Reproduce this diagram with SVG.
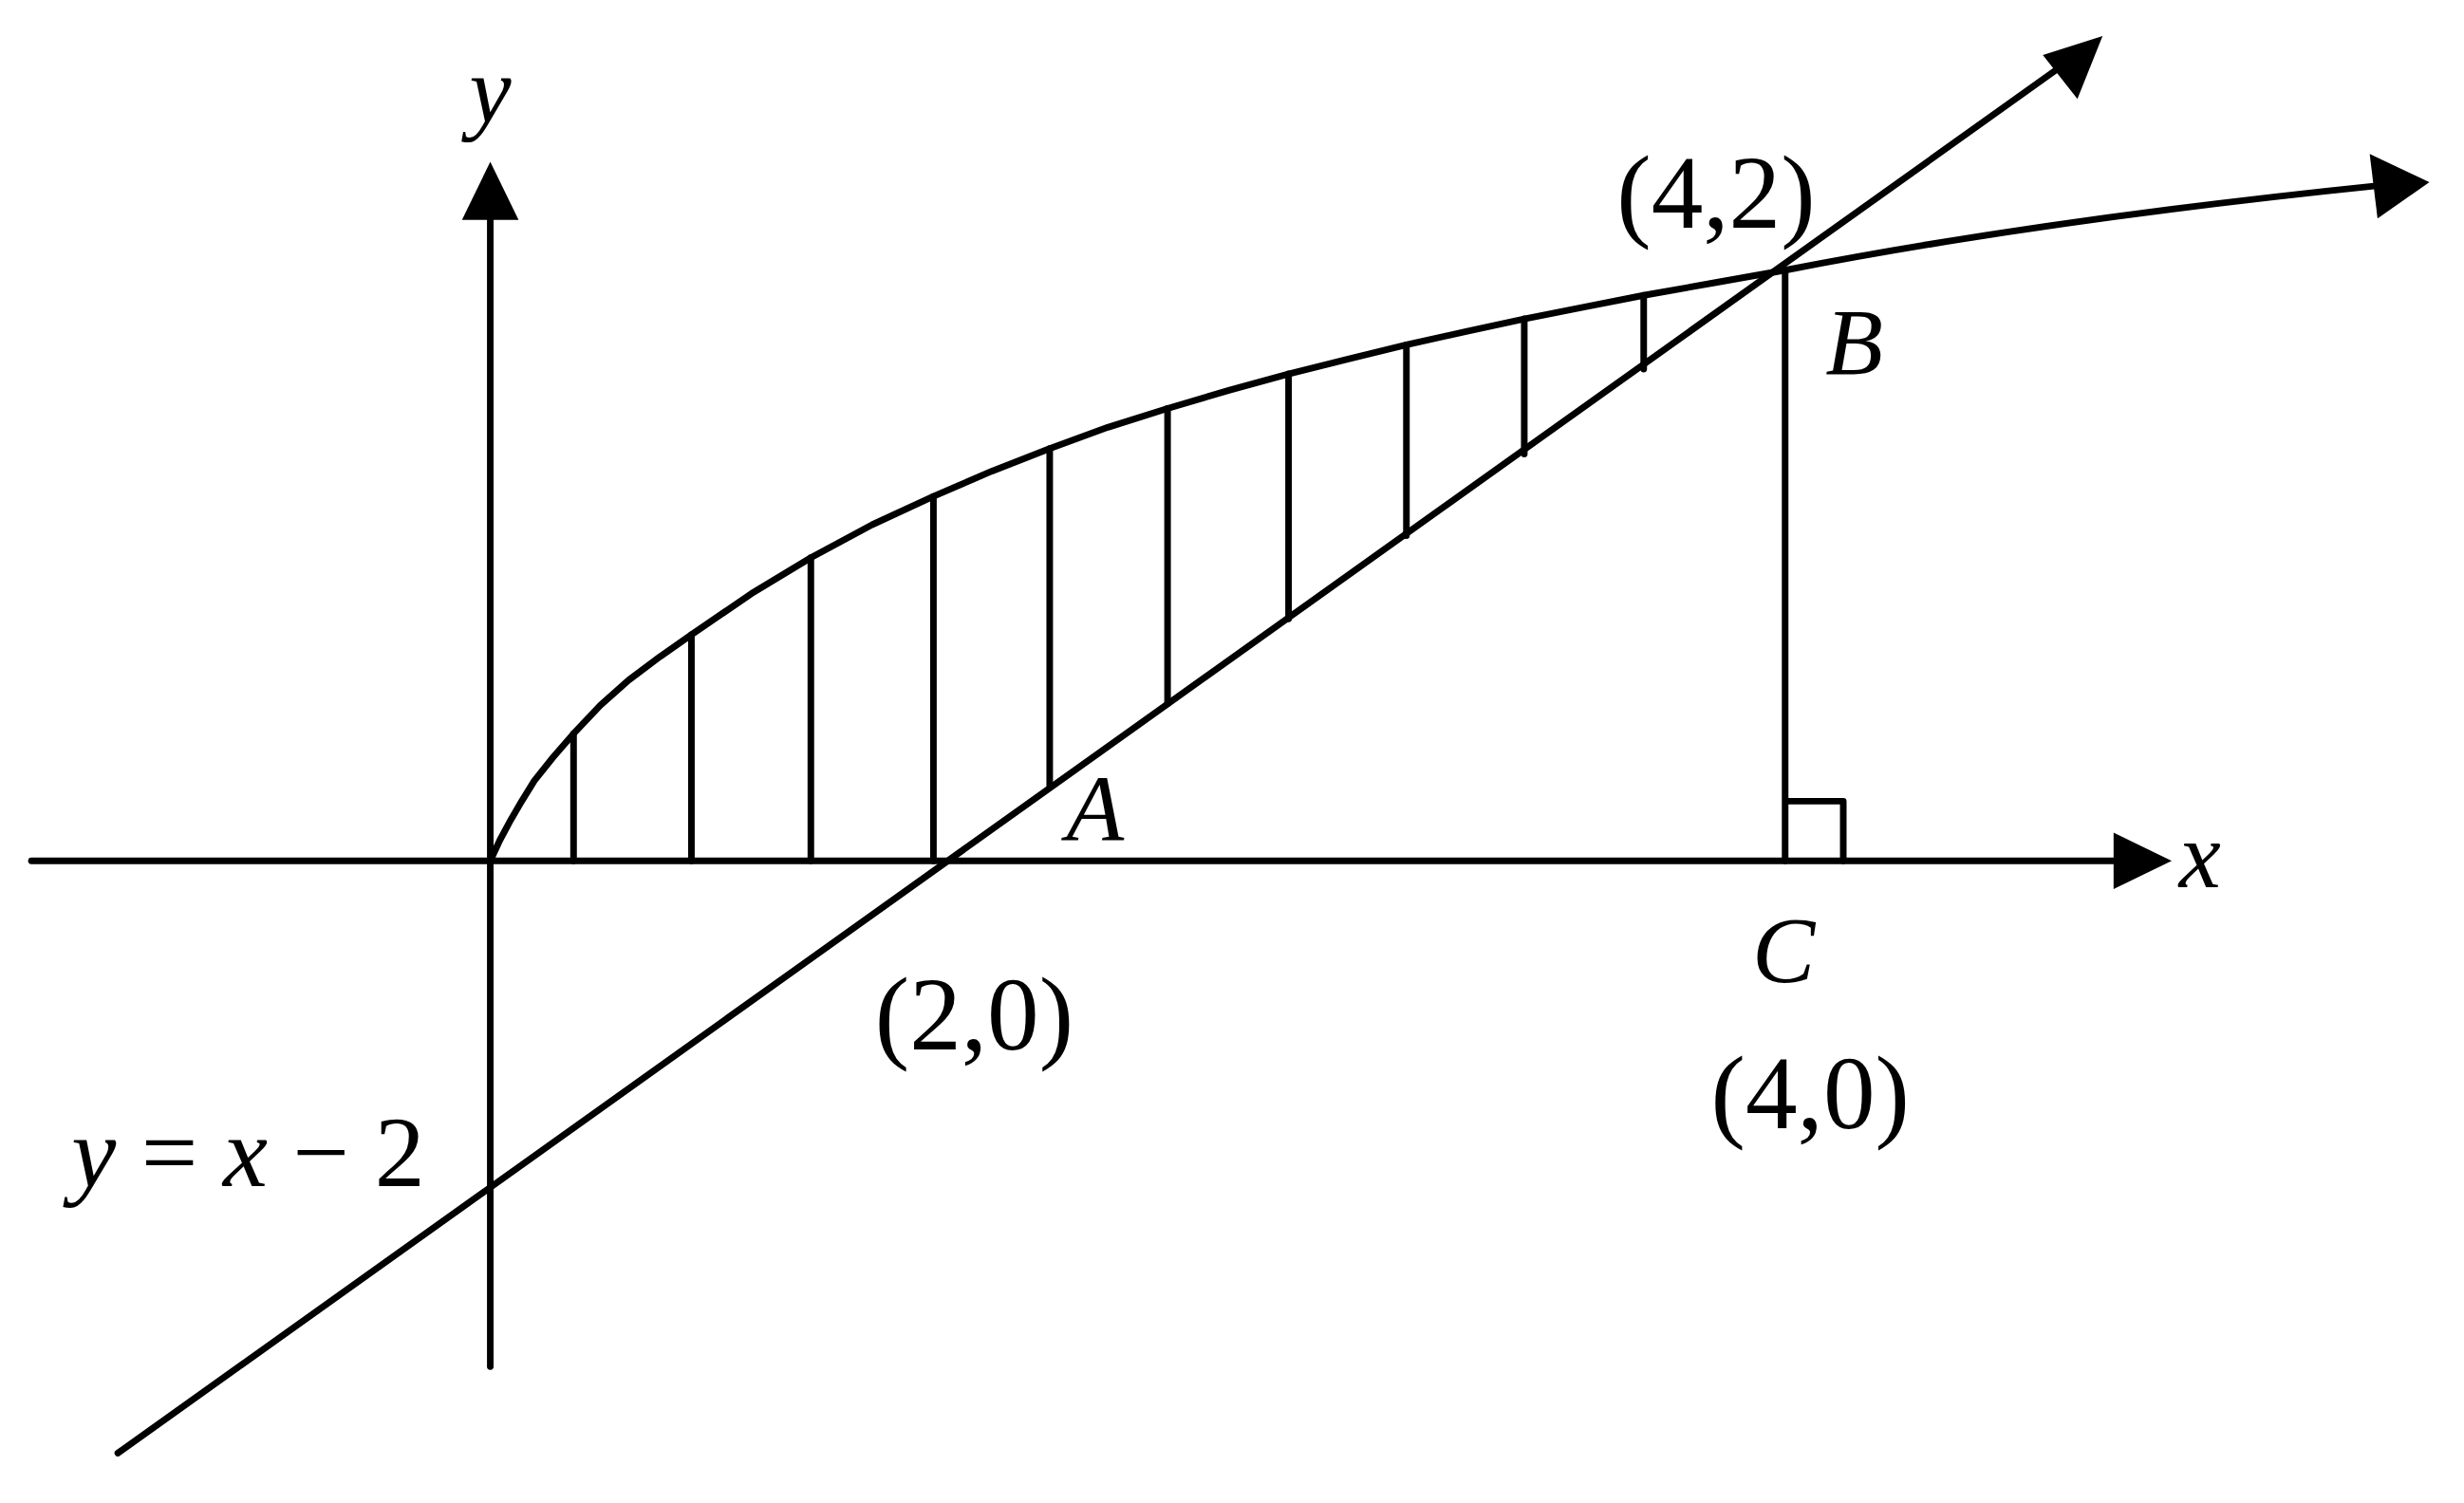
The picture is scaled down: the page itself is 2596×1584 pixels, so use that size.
<svg xmlns="http://www.w3.org/2000/svg" width="2596" height="1584" viewBox="0 0 2596 1584">
<style>
.l{stroke:#000;stroke-width:4.2;fill:none;stroke-linejoin:round;stroke-linecap:round}
.t{font-family:"Liberation Serif","Times New Roman",serif;fill:#000}
.i{font-style:italic}
</style>
<rect width="2596" height="1584" fill="#fff"/>
<g transform="scale(1.6556)">
<g id="axes">
<line class="l" x1="20" y1="548" x2="1350" y2="548"/>
<polygon points="1382,548 1345,530 1345,566"/>
<line class="l" x1="312" y1="870" x2="312" y2="135"/>
<polygon points="312,103 294,140 330,140"/>
</g>
<g id="line">
<line class="l" x1="75" y1="925" x2="1312" y2="42"/>
<polygon points="1338,23 1300,35 1322,63"/>
</g>
<g id="curve">
<path class="l" d="M312,548 L318,535 L325,522 L332,510 L340,497 L352,482 L365,467 L382,449 L400,433 L420,418 L440,404 L478,378 L516,355 L555,334 L594,316 L631,300 L668,285.5 L705,272 L743,260 L782,248.5 L820,238 L858,228.5 L895,219.5 L933,211 L970,203 L1008,195.5 L1046,188 L1091,180 L1136,172 Q1300,140 1515,118"/>
<polygon points="1546,116 1508,98 1513,139"/>
</g>
<g id="hatch">
<path class="l" d="M365,467V548M440,404V548M516,355V548M594,316V548M668,285.5V500M743,260V448M820,238V394M895,219.5V341M970,203V289M1046,188V235"/>
<path class="l" d="M1136,172V548M1136,510H1173V548"/>
</g>
<g id="labels">
<text class="t i" x="312" y="78" font-size="60" text-anchor="middle">y</text>
<text class="t i" x="1400" y="565" font-size="60" text-anchor="middle">x</text>
<text class="t i" x="1180" y="238" font-size="60" text-anchor="middle">B</text>
<text class="t i" x="697" y="535" font-size="60" text-anchor="middle">A</text>
<text class="t i" x="1135" y="625" font-size="60" text-anchor="middle">C</text>
<text class="t" x="1092" y="145" font-size="66" text-anchor="middle">(4,2)</text>
<text class="t" x="620" y="668" font-size="66" text-anchor="middle">(2,0)</text>
<text class="t" x="1152" y="718" font-size="66" text-anchor="middle">(4,0)</text>
<text class="t" x="158" y="755" font-size="64" text-anchor="middle"><tspan class="i">y</tspan> = <tspan class="i">x</tspan> − 2</text>
</g>
</g>
</svg>
